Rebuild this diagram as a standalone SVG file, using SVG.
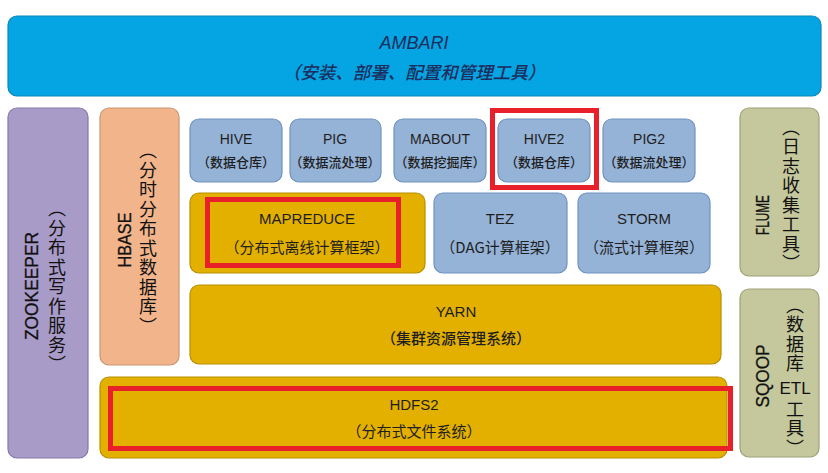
<svg xmlns="http://www.w3.org/2000/svg" width="828" height="473" viewBox="0 0 828 473">
<style>
text{font-family:"Liberation Sans","Noto Sans CJK SC",sans-serif;fill:#1e1e1e;text-anchor:middle}
.blue{fill:#95b3d7;stroke:#6f93bf;stroke-width:1.2}
.gold{fill:#e3b000;stroke:#b88f00;stroke-width:1.2}
.peach{fill:#f2b58b;stroke:#c99671;stroke-width:1.2}
.purple{fill:#a99bc8;stroke:#8778a9;stroke-width:1.2}
.olive{fill:#c5c89c;stroke:#9fa278;stroke-width:1.2}
.amb{fill:#05a4e2;stroke:#0a88bb;stroke-width:1.2}
.red{fill:none;stroke:#e82029;stroke-width:5}
.t1{font-size:14px}
.t2{font-size:13px;font-family:"Noto Sans CJK SC",sans-serif;font-weight:500}
.m1{font-size:15px}
.m2{font-size:15px;font-family:"Noto Sans CJK SC",sans-serif}
.v{font-size:18px;font-family:"Noto Sans CJK SC",sans-serif;writing-mode:vertical-rl;letter-spacing:1.5px;text-anchor:middle;fill:#111}
.vl{font-size:18px;fill:#111;stroke:#111;stroke-width:0.3}
</style>

<g id="ambari">
<rect class="amb" x="8" y="16" width="813" height="80" rx="9"/>
<text x="414" y="49" style="font-size:18px;font-style:italic;fill:#1b2d5c">AMBARI</text>
<text x="414" y="79" style="font-size:17.5px;font-style:italic;fill:#1b2d5c;font-family:'Noto Sans CJK SC',sans-serif;font-weight:500">（安装、部署、配置和管理工具）</text>
</g>

<g id="zookeeper">
<rect class="purple" x="8" y="108" width="80" height="350" rx="9"/>
<text class="vl" transform="translate(38,286) rotate(-90)" textLength="108" lengthAdjust="spacingAndGlyphs">ZOOKEEPER</text>
<text class="v" x="57" y="287">（分布式写作服务）</text>
</g>

<g id="hbase">
<rect class="peach" x="100" y="108" width="79" height="257" rx="9"/>
<text class="vl" transform="translate(131,240) rotate(-90)" textLength="55" lengthAdjust="spacingAndGlyphs">HBASE</text>
<text class="v" x="148" y="239">（分时分布式数据库）</text>
</g>

<g id="hive">
<rect class="blue" x="190" y="119" width="92" height="63" rx="9"/>
<text class="t1" x="236" y="144">HIVE</text>
<text class="t2" x="236" y="167">（数据仓库）</text>
</g>
<g id="pig">
<rect class="blue" x="290" y="119" width="91" height="63" rx="9"/>
<text class="t1" x="335" y="144">PIG</text>
<text class="t2" x="335" y="167">（数据流处理）</text>
</g>
<g id="mabout">
<rect class="blue" x="394" y="119" width="92" height="63" rx="9"/>
<text class="t1" x="440" y="144">MABOUT</text>
<text class="t2" x="440" y="167">（数据挖掘库）</text>
</g>
<g id="hive2">
<rect class="blue" x="498" y="119" width="92" height="63" rx="9"/>
<text class="t1" x="544" y="144">HIVE2</text>
<text class="t2" x="544" y="167">（数据仓库）</text>
<rect class="red" x="492.5" y="110.5" width="104" height="77"/>
</g>
<g id="pig2">
<rect class="blue" x="603" y="119" width="92" height="63" rx="9"/>
<text class="t1" x="649" y="144">PIG2</text>
<text class="t2" x="649" y="167">（数据流处理）</text>
</g>

<g id="mapreduce">
<rect class="gold" x="190" y="193" width="235" height="80" rx="9"/>
<rect class="red" x="207.5" y="199.5" width="191" height="66"/>
<text class="m1" x="307" y="224">MAPREDUCE</text>
<text class="m2" x="307" y="253">（分布式离线计算框架）</text>
</g>
<g id="tez">
<rect class="blue" x="434" y="193" width="133" height="80" rx="9"/>
<text class="m1" x="500" y="224">TEZ</text>
<text class="m2" x="500" y="253">（DAG计算框架）</text>
</g>
<g id="storm">
<rect class="blue" x="578" y="193" width="132" height="80" rx="9"/>
<text class="m1" x="644" y="224">STORM</text>
<text class="m2" x="644" y="253">（流式计算框架）</text>
</g>

<g id="yarn">
<rect class="gold" x="190" y="285" width="531" height="79" rx="9"/>
<text class="m1" x="456" y="317">YARN</text>
<text class="m2" x="456" y="344" style="font-weight:500">（集群资源管理系统）</text>
</g>

<g id="hdfs2">
<rect class="gold" x="100" y="377" width="627" height="81" rx="9"/>
<rect class="red" x="110.5" y="388.5" width="620" height="60"/>
<text class="m1" x="414" y="410">HDFS2</text>
<text class="m2" x="414" y="437">（分布式文件系统）</text>
</g>

<g id="flume">
<rect class="olive" x="740" y="108" width="79" height="168" rx="9"/>
<text class="vl" transform="translate(769,215) rotate(-90)" textLength="40" lengthAdjust="spacingAndGlyphs">FLUME</text>
<text class="v" x="791" y="196">（日志收集工具）</text>
</g>

<g id="sqoop">
<rect class="olive" x="740" y="289" width="79" height="168" rx="9"/>
<text class="vl" transform="translate(769,376) rotate(-90)" textLength="63" lengthAdjust="spacingAndGlyphs">SQOOP</text>
<text class="v" x="795" y="335">（数据库</text>
<text x="795" y="394" style="font-size:17px;fill:#111">ETL</text>
<text class="v" x="795" y="429">工具）</text>
</g>
</svg>
